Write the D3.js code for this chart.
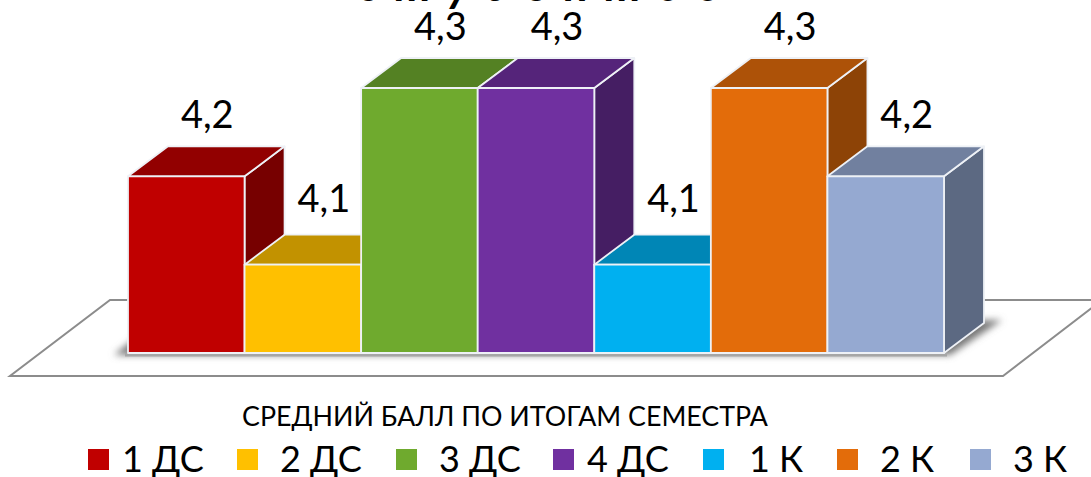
<!DOCTYPE html>
<html>
<head>
<meta charset="utf-8">
<script src="https://cdn.jsdelivr.net/npm/d3@7"></script>
<style>
  html, body { margin: 0; padding: 0; background: white; overflow: hidden; }
  svg { display: block; }
  text { font-family: "Lato", "Noto Sans", sans-serif; fill: black; }
</style>
</head>
<body>
<div id="graph1"></div>
<script>
var categories = ["1 ДС", "2 ДС", "3 ДС", "4 ДС", "1 К", "2 К", "3 К"];
var values = [4.2, 4.1, 4.3, 4.3, 4.1, 4.3, 4.2];
var labels = ["4,2", "4,1", "4,3", "4,3", "4,1", "4,3", "4,2"];
var colors = ["#C00000", "#FFC000", "#6FAA2E", "#7030A0", "#00B0F0", "#E36C0A", "#95A9D1"];
var axisTitle = "СРЕДНИЙ БАЛЛ ПО ИТОГАМ СЕМЕСТРА";
var chartTitle = "студентов";

function main() {
    var width = 1091, height = 477;
    var depthX = 40, depthY = 30;

    var xScale = d3.scaleBand().domain(categories).range([128, 944]);
    var yScale = d3.scaleLinear().domain([4, 4.3]).range([353, 88]);
    // the value labels do not sit at one fixed distance above the bars
    var labelScale = d3.scaleLinear().domain([4.1, 4.2, 4.3]).range([212, 128, 40]);

    var svg = d3.select("#graph1").append("svg")
        .attr("width", width)
        .attr("height", height);

    var blur = svg.append("defs").append("filter")
        .attr("id", "blur")
        .attr("x", "-10%").attr("y", "-30%")
        .attr("width", "120%").attr("height", "160%");
    blur.append("feGaussianBlur").attr("stdDeviation", 3.5);

    // floor, its right corner runs off the page
    svg.append("path")
        .attr("d", "M10,376 L1003,376 L1102,300 L110,300 Z")
        .attr("fill", "white")
        .attr("stroke", "#8c8c8c")
        .attr("stroke-width", 2);

    var y0 = yScale(4);
    var x0 = xScale.range()[0], x1 = xScale.range()[1];

    svg.append("path")
        .attr("d", "M" + (x0 - 14) + "," + (y0 + 2)
            + " L" + (x0 + 6) + "," + (y0 - 14)
            + " L" + (x1 + 58) + "," + (y0 - 33)
            + " L" + (x1 + 6) + "," + (y0 + 2) + " Z")
        .attr("fill", "#777")
        .attr("filter", "url(#blur)");
    svg.append("rect")
        .attr("x", x0 - 3)
        .attr("y", y0)
        .attr("width", x1 - x0 + 6)
        .attr("height", 3.5)
        .attr("fill", "#a6a6a6");

    var bars = svg.selectAll(".bar")
        .data(values)
        .enter().append("g")
        .attr("class", "bar")
        .attr("stroke", "#eef1f6")
        .attr("stroke-width", 1.8)
        .attr("stroke-linejoin", "round");

    // right side first, then top, then front, so later bars cover earlier sides
    bars.append("path")
        .attr("fill", function(d, i) { return shade(colors[i], 0.62); })
        .attr("d", function(d, i) {
            var r = xScale(categories[i]) + xScale.bandwidth();
            var t = yScale(d);
            return "M" + r + "," + t + " l" + depthX + "," + (-depthY)
                + " V" + (y0 - depthY) + " L" + r + "," + y0 + " Z";
        });

    bars.append("path")
        .attr("fill", function(d, i) { return shade(colors[i], 0.76); })
        .attr("d", function(d, i) {
            var l = xScale(categories[i]);
            var t = yScale(d);
            return "M" + l + "," + t + " l" + depthX + "," + (-depthY)
                + " h" + xScale.bandwidth() + " l" + (-depthX) + "," + depthY + " Z";
        });

    bars.append("rect")
        .attr("x", function(d, i) { return xScale(categories[i]); })
        .attr("y", function(d) { return yScale(d); })
        .attr("width", xScale.bandwidth())
        .attr("height", function(d) { return y0 - yScale(d); })
        .attr("fill", function(d, i) { return colors[i]; });

    svg.selectAll(".value")
        .data(values)
        .enter().append("text")
        .attr("class", "value")
        .attr("text-anchor", "middle")
        .attr("font-size", 38)
        .attr("x", function(d, i) { return xScale(categories[i]) + xScale.bandwidth() / 2 + depthX / 2 + 1; })
        .attr("y", function(d) { return labelScale(d); })
        .text(function(d, i) { return labels[i]; });

    // clipped by the top of the page in the reference too
    svg.append("text")
        .attr("x", 547)
        .attr("y", 0.5)
        .attr("text-anchor", "middle")
        .attr("font-size", 46)
        .attr("letter-spacing", 16)
        .attr("font-weight", "bold")
        .attr("font-style", "italic")
        .text(chartTitle);

    svg.append("text")
        .attr("x", 505)
        .attr("y", 426)
        .attr("text-anchor", "middle")
        .attr("font-size", 26.8)
        .text(axisTitle);

    // legend spacing is uneven in the reference
    var legendX = [88, 237, 396, 553, 703, 837, 970];
    var legendTextX = [122, 280, 439, 587, 749, 880, 1013];

    var legend = svg.selectAll(".legend")
        .data(categories)
        .enter().append("g")
        .attr("class", "legend");

    legend.append("rect")
        .attr("x", function(d, i) { return legendX[i]; })
        .attr("y", 449)
        .attr("width", 21)
        .attr("height", 21)
        .attr("fill", function(d, i) { return colors[i]; });

    legend.append("text")
        .attr("x", function(d, i) { return legendTextX[i]; })
        .attr("y", 472)
        .attr("font-size", 36)
        .text(function(d) { return d; });
}

function shade(color, k) {
    var c = d3.rgb(color);
    return d3.rgb(c.r * k, c.g * k, c.b * k).formatHex();
}

main();
</script>
</body>
</html>
